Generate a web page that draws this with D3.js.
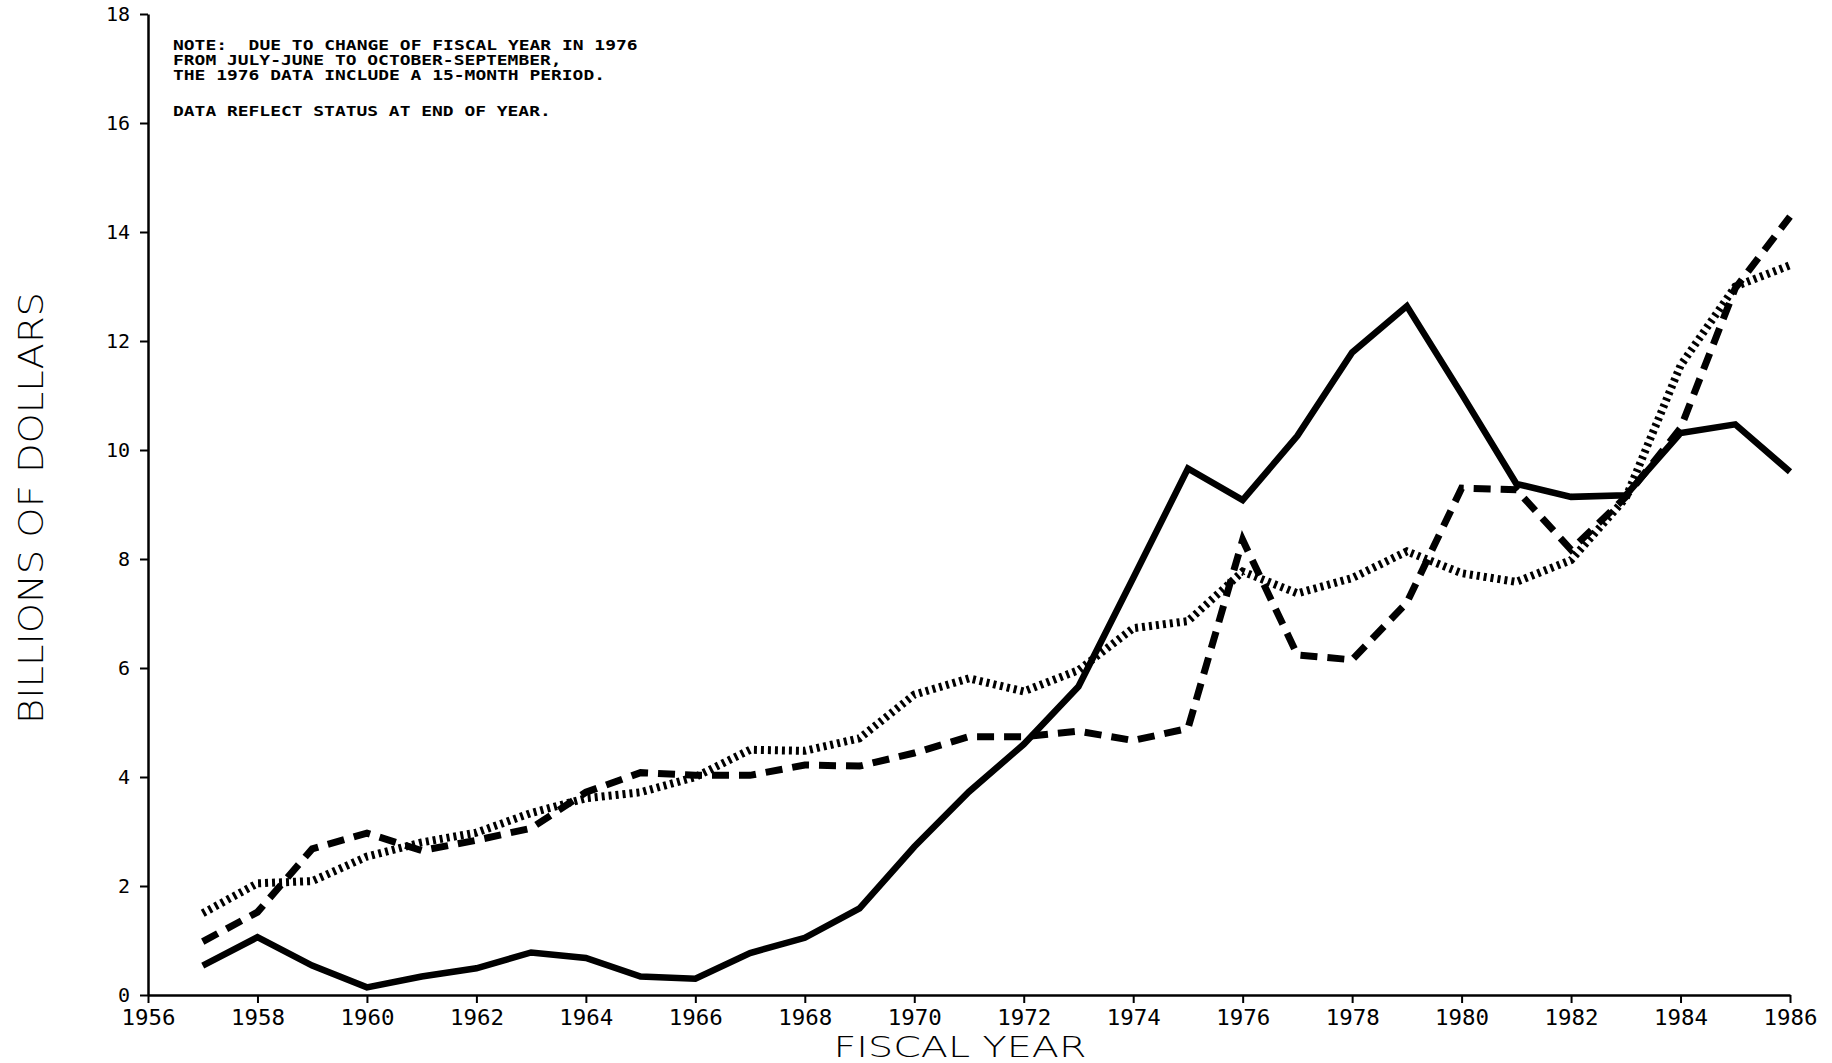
<!DOCTYPE html>
<html>
<head>
<meta charset="utf-8">
<script src="https://cdn.jsdelivr.net/npm/d3@7"></script>
<style>
  html, body { margin: 0; padding: 0; background: #fff; }
  svg { display: block; }
</style>
</head>
<body>
<svg id="chart" width="1832" height="1063"></svg>
<script>
// ---- data ----
const years = [1957,1958,1959,1960,1961,1962,1963,1964,1965,1966,1967,1968,1969,1970,1971,
               1972,1973,1974,1975,1976,1977,1978,1979,1980,1981,1982,1983,1984,1985,1986];
const solidSeries = [0.54,1.06,0.54,0.14,0.34,0.49,0.78,0.68,0.34,0.30,0.77,1.05,1.59,2.72,3.73,
                     4.60,5.66,7.65,9.66,9.08,10.26,11.79,12.64,11.03,9.38,9.14,9.17,10.31,10.47,9.60];
const dashedSeries = [0.98,1.52,2.68,2.97,2.65,2.84,3.06,3.72,4.08,4.03,4.03,4.22,4.20,4.44,4.74,
                      4.74,4.84,4.67,4.89,8.35,6.24,6.15,7.20,9.30,9.27,8.17,9.14,10.40,12.97,14.28];
const dottedSeries = [1.50,2.05,2.09,2.54,2.80,2.98,3.34,3.61,3.72,4.00,4.50,4.48,4.71,5.51,5.81,
                      5.57,5.96,6.73,6.86,7.77,7.37,7.65,8.14,7.74,7.58,7.98,9.12,11.55,13.00,13.39];
const xTicks = [1956,1958,1960,1962,1964,1966,1968,1970,1972,1974,1976,1978,1980,1982,1984,1986];
const yTicks = [0,2,4,6,8,10,12,14,16,18];
const noteLines = [
  "NOTE:  DUE TO CHANGE OF FISCAL YEAR IN 1976",
  "FROM JULY-JUNE TO OCTOBER-SEPTEMBER,",
  "THE 1976 DATA INCLUDE A 15-MONTH PERIOD.",
  "",
  "DATA REFLECT STATUS AT END OF YEAR."
];
const xTitle = "FISCAL YEAR";
const yTitle = "BILLIONS OF DOLLARS";

// ---- chart ----
const svg = d3.select("#chart");
const x = d3.scaleLinear().domain([1956, 1986]).range([148, 1790]);
const y = d3.scaleLinear().domain([0, 18]).range([995, 14]);
const mono = "'DejaVu Sans Mono', monospace";

// axes
const xAxis = svg.append("g").attr("transform", `translate(0,${y(0)})`)
  .call(d3.axisBottom(x).tickValues(xTicks).tickFormat(d3.format("d")).tickSize(8).tickSizeOuter(0).tickPadding(6.4));
const yAxis = svg.append("g").attr("transform", `translate(${x(1956)},0)`)
  .call(d3.axisLeft(y).tickValues(yTicks).tickFormat(d3.format("d")).tickSize(8).tickSizeOuter(0).tickPadding(10));

[xAxis, yAxis].forEach(g => {
  g.select(".domain").attr("stroke", "#000").attr("stroke-width", 2.5);
  g.selectAll(".tick line").attr("stroke", "#000").attr("stroke-width", 2);
});
xAxis.selectAll(".tick text").attr("font-family", mono).attr("font-size", 22).attr("fill", "#000")
  .attr("textLength", 54).attr("lengthAdjust", "spacingAndGlyphs");
yAxis.selectAll(".tick text").attr("font-family", mono).attr("font-size", 20).attr("fill", "#000");

// lines
const line = vals => d3.line().x((d, i) => x(years[i])).y(d => y(d))(vals);

svg.append("path").attr("d", line(solidSeries))
  .attr("fill", "none").attr("stroke", "#000").attr("stroke-width", 6.5)
  .attr("stroke-linejoin", "miter");
svg.append("path").attr("d", line(dashedSeries))
  .attr("fill", "none").attr("stroke", "#000").attr("stroke-width", 7)
  .attr("stroke-dasharray", "17 10");
svg.append("path").attr("d", line(dottedSeries))
  .attr("fill", "none").attr("stroke", "#000").attr("stroke-width", 8)
  .attr("stroke-dasharray", "3 4");

// note
const noteG = svg.append("g").attr("font-family", mono).attr("font-size", 14.5)
  .attr("font-weight", "bold").attr("fill", "#000").style("white-space", "pre");
const pitch = 15;
noteLines.forEach((t, i) => {
  if (!t) return;
  const yy = i < 3 ? 50 + i * pitch : 116;
  noteG.append("text").attr("x", 173).attr("y", yy).attr("xml:space", "preserve").text(t)
    .attr("textLength", t.length * 10.85 - 2).attr("lengthAdjust", "spacingAndGlyphs");
});

// axis titles
svg.append("text").attr("x", 960).attr("y", 1056.5).attr("text-anchor", "middle")
  .attr("font-family", "'DejaVu Sans', sans-serif").attr("font-weight", 200)
  .attr("font-size", 28).attr("fill", "#000")
  .attr("textLength", 253).attr("lengthAdjust", "spacingAndGlyphs").text(xTitle);
svg.append("text").attr("transform", "translate(43,508) rotate(-90)").attr("text-anchor", "middle")
  .attr("font-family", "'DejaVu Sans', sans-serif").attr("font-weight", 200)
  .attr("font-size", 34).attr("fill", "#000")
  .attr("textLength", 432).attr("lengthAdjust", "spacingAndGlyphs").text(yTitle);
</script>
</body>
</html>
